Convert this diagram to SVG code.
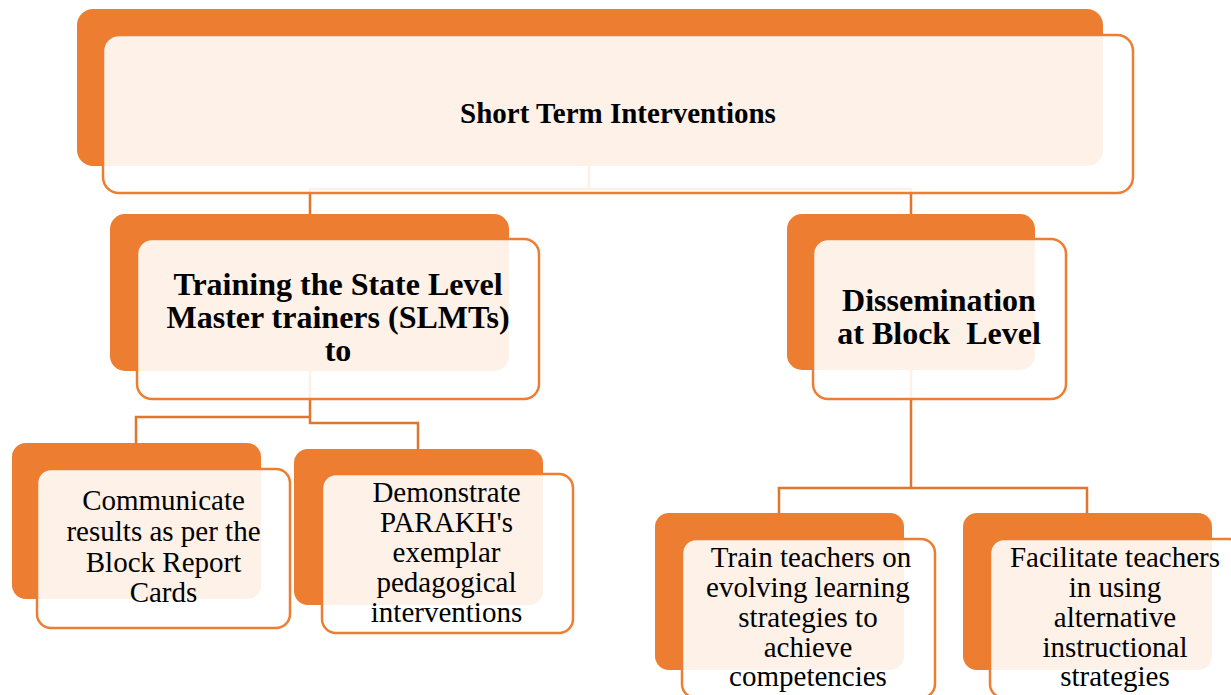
<svg xmlns="http://www.w3.org/2000/svg" width="1231" height="695" viewBox="0 0 1231 695">
<style>
.back{fill:#ED7D31;}
.front{fill:#FFFFFF;fill-opacity:0.89;stroke:#ED7D31;stroke-width:2.5;}
.conn{fill:none;stroke:#E0762D;stroke-width:2.5;}
.tb{font-weight:bold;fill:#000;text-anchor:middle;white-space:pre;}
.tr{font-size:29px;fill:#000;text-anchor:middle;}
</style>
<rect width="1231" height="695" fill="#FFFFFF"/>
<g id="connectors">
<path class="conn" d="M589,165 V189 M310,214 V189 H911 V214"/>
<path class="conn" d="M310,371 V423 H418 V449 M310,417 H136 V443"/>
<path class="conn" d="M911,370 V488 M779,513 V488 H1087 V513"/>
</g>
<g font-family="'Liberation Serif', 'Tinos', 'DejaVu Serif', serif">
<g id="node-short-term">
<rect class="back" x="77" y="9" width="1026" height="157" rx="16"/>
<rect class="front" x="103" y="35" width="1030" height="158" rx="16"/>
<text class="tb" x="618" y="123" font-size="29">Short Term Interventions</text>
</g>
<g id="node-training">
<rect class="back" x="110" y="214" width="399" height="157" rx="15"/>
<rect class="front" x="137" y="239" width="402" height="160" rx="15"/>
<text class="tb" font-size="32"><tspan x="338" y="295">Training the State Level</tspan><tspan x="338" y="328">Master trainers (SLMTs)</tspan><tspan x="338" y="361">to</tspan></text>
</g>
<g id="node-dissemination">
<rect class="back" x="787" y="214" width="248" height="156" rx="15"/>
<rect class="front" x="813" y="239" width="253" height="160" rx="15"/>
<text class="tb" font-size="32"><tspan x="939" y="311">Dissemination</tspan><tspan x="939" y="344">at Block  Level</tspan></text>
</g>
<g id="node-communicate">
<rect class="back" x="12" y="443" width="249" height="156" rx="14"/>
<rect class="front" x="37" y="469" width="253" height="159" rx="14"/>
<text class="tr"><tspan x="163.5" y="510">Communicate</tspan><tspan x="163.5" y="541">results as per the</tspan><tspan x="163.5" y="572">Block Report</tspan><tspan x="163.5" y="602">Cards</tspan></text>
</g>
<g id="node-demonstrate">
<rect class="back" x="294" y="449" width="249" height="156" rx="14"/>
<rect class="front" x="322" y="474" width="251" height="159" rx="14"/>
<text class="tr"><tspan x="446.5" y="502">Demonstrate</tspan><tspan x="446.5" y="532">PARAKH's</tspan><tspan x="446.5" y="562">exemplar</tspan><tspan x="446.5" y="592">pedagogical</tspan><tspan x="446.5" y="622">interventions</tspan></text>
</g>
<g id="node-train">
<rect class="back" x="655" y="513" width="249" height="157" rx="14"/>
<rect class="front" x="682" y="539" width="253" height="159" rx="14"/>
<text class="tr"><tspan x="811" y="567">Train teachers on</tspan><tspan x="808" y="597">evolving learning</tspan><tspan x="808" y="627">strategies to</tspan><tspan x="808" y="657">achieve</tspan><tspan x="808" y="686">competencies</tspan></text>
</g>
<g id="node-facilitate">
<rect class="back" x="963" y="513" width="249" height="157" rx="14"/>
<rect class="front" x="990" y="539" width="253" height="159" rx="14"/>
<text class="tr"><tspan x="1115" y="567">Facilitate teachers</tspan><tspan x="1115" y="597">in using</tspan><tspan x="1115" y="627">alternative</tspan><tspan x="1115" y="657">instructional</tspan><tspan x="1115" y="686">strategies</tspan></text>
</g>
</g>
</svg>
